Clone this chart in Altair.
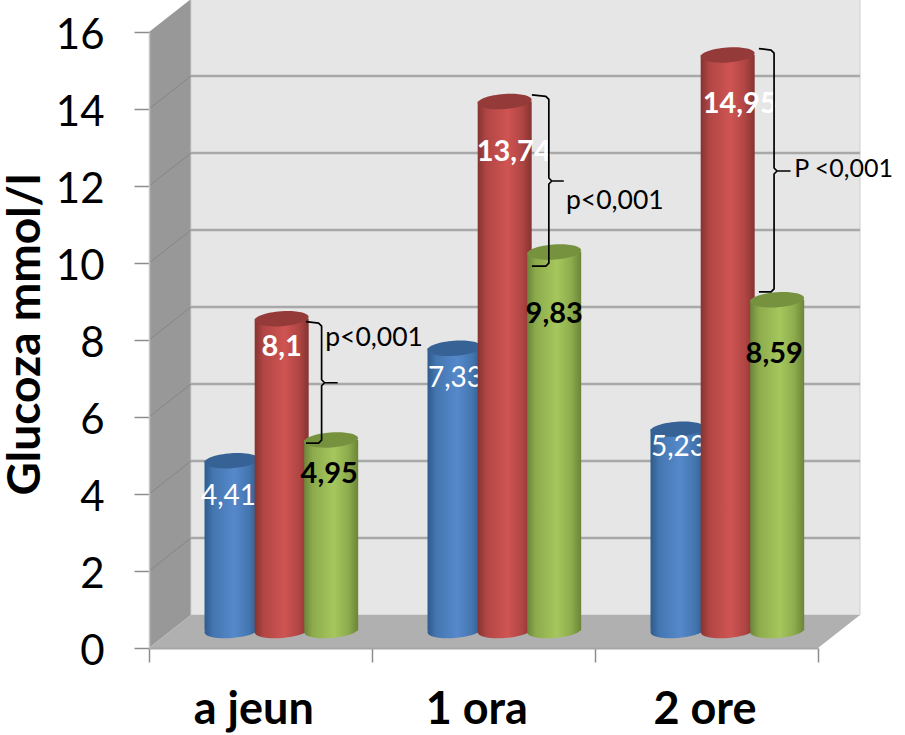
import altair as alt
import pandas as pd

# Fasting and post-load glucose means, one value per time point and series
categories = ["a jeun", "1 ora", "2 ore"]
series_blue = [4.41, 7.33, 5.23]
series_red = [8.1, 13.74, 14.95]
series_green = [4.95, 9.83, 8.59]
label_blue = ["4,41", "7,33", "5,23"]
label_red = ["8,1", "13,74", "14,95"]
label_green = ["4,95", "9,83", "8,59"]
p_texts = ["p<0,001", "p<0,001", "P <0,001"]
brace_top = [8.44, 14.33, 15.53]
brace_bottom = [5.32, 9.92, 9.25]
brace_mid = [6.89, 12.13, 12.39]

# Plot geometry
PLOT_W, PLOT_H = 669, 616
PX_X = PLOT_W / 3
PX_Y = PLOT_H / 16
DEPTH_X = 42 / PX_X
DEPTH_Y = 33 / PX_Y
LIFT = -17.5
LABEL_LIFT = -18.5
BAR_W = 54 / PX_X
FONT = "Lato"

slots = [0.37, 0.595, 0.817]
label_shift = [[-3, 1, 1], [0, 9, 12], [-2, 0, -3]]
label_drop = [[37, 32, 20], [29, 51, 50], [35, 63, 55]]


def cyl_gradient(edge, mid, light):
    return {
        "gradient": "linear", "x1": 0, "x2": 1, "y1": 0, "y2": 0,
        "stops": [
            {"offset": 0, "color": edge},
            {"offset": 0.16, "color": mid},
            {"offset": 0.55, "color": light},
            {"offset": 0.82, "color": mid},
            {"offset": 1, "color": edge},
        ],
    }


palette = [
    dict(values=series_blue, texts=label_blue, body=cyl_gradient("#2f5a8c", "#4476b0", "#5689cb"),
         cap="#376296", ink="#ffffff", weight="normal"),
    dict(values=series_red, texts=label_red, body=cyl_gradient("#853331", "#b04644", "#cf5452"),
         cap="#943b39", ink="#ffffff", weight="bold"),
    dict(values=series_green, texts=label_green, body=cyl_gradient("#6b8539", "#8dab4c", "#a5c75d"),
         cap="#76923f", ink="#000000", weight="bold"),
]

x_scale = alt.Scale(domain=[0, 3], nice=False, zero=False)
y_scale = alt.Scale(domain=[0, 16], nice=False, zero=False)

# Ticks sit at the category boundaries; category names are placed separately
x_axis = alt.Axis(
    values=[0, 1, 2, 3], labels=False, title=None, tickSize=14, tickColor="#8c8c8c",
    tickWidth=1.5, domainColor="#a6a6a6", domainWidth=2, grid=False, zindex=1)
y_axis = alt.Axis(
    values=list(range(0, 17, 2)), title="Glucoza mmol/l", tickSize=15, tickColor="#8c8c8c",
    tickWidth=1.5, domainColor="#c4c4c4", domainWidth=1.5, grid=False, labelFont=FONT,
    labelFontSize=42, labelColor="#000000", labelPadding=30, labelOffset=3, titleFont=FONT,
    titleFontSize=46, titleFontWeight="bold", titleColor="#000000", titleBaseline="alphabetic",
    titleX=-110, titleY=302, zindex=1)


def X(field="x"):
    return alt.X(f"{field}:Q", scale=x_scale, axis=x_axis)


def Y(field="y"):
    return alt.Y(f"{field}:Q", scale=y_scale, axis=y_axis)


# The room: side wall, back wall and floor
side_wall = alt.Chart(pd.DataFrame({
    "x": [0, DEPTH_X], "y": [0, DEPTH_Y], "y2": [16, 16 + DEPTH_Y],
})).mark_area(color="#989898", opacity=1).encode(X(), Y(), y2="y2:Q")

back_wall = alt.Chart(pd.DataFrame({
    "x": [DEPTH_X], "x2": [3 + DEPTH_X], "y": [DEPTH_Y], "y2": [16 + DEPTH_Y],
})).mark_rect(color="#e6e6e6", stroke="#cfcfcf", strokeWidth=1).encode(X(), x2="x2:Q", y=Y(), y2="y2:Q")

floor = alt.Chart(pd.DataFrame({
    "x": [0, DEPTH_X, 3, 3 + DEPTH_X],
    "y": [0, 0, 0, DEPTH_Y],
    "y2": [0, DEPTH_Y, DEPTH_Y, DEPTH_Y],
})).mark_area(color="#b0b0b0", opacity=1).encode(X(), Y(), y2="y2:Q")

grid_values = [2, 4, 6, 8, 10, 12, 14]
grid_df = pd.DataFrame({
    "x0": [0] * 7, "xb": [DEPTH_X] * 7, "xe": [3 + DEPTH_X] * 7,
    "v": grid_values, "vb": [v + DEPTH_Y for v in grid_values],
})
grid_back = alt.Chart(grid_df).mark_rule(color="#a8a8a8", strokeWidth=2.4).encode(
    x=X("xb"), x2="xe:Q", y=Y("vb"))
grid_side = alt.Chart(grid_df).mark_rule(color="#858585", strokeWidth=1).encode(
    x=X("x0"), x2="xb:Q", y=Y("v"), y2="vb:Q")

# Cylinders, drawn series by series so that each overlaps the one before it
ellipse_path = "M-0.998,0.07 A1,0.278 -4 1 1 0.998,-0.07 A1,0.278 -4 1 1 -0.998,0.07 Z"
cyl_layers = []
for s_idx, style in enumerate(palette):
    centres = [i + slots[s_idx] for i in range(3)]
    bar_df = pd.DataFrame({
        "category": categories,
        "x": [c - BAR_W / 2 for c in centres],
        "x2": [c + BAR_W / 2 for c in centres],
        "centre": centres,
        "value": style["values"],
        "base": [0, 0, 0],
    })
    base = alt.Chart(bar_df)
    bottom = base.mark_point(shape=ellipse_path, size=54 ** 2, filled=True, opacity=1,
                             fill=style["body"], yOffset=LIFT).encode(X("centre"), Y("base"))
    body = base.mark_bar(fill=style["body"], yOffset=LIFT, y2Offset=LIFT).encode(
        X(), x2="x2:Q", y=Y("value"), y2="base:Q")
    cap = base.mark_point(shape=ellipse_path, size=54 ** 2, filled=True, opacity=1,
                          fill=style["cap"], yOffset=LIFT).encode(X("centre"), Y("value"))
    cyl_layers += [bottom, body, cap]

    label_df = pd.DataFrame({
        "x": [c + d / PX_X for c, d in zip(centres, label_shift[s_idx])],
        "y": [v - d / PX_Y for v, d in zip(style["values"], label_drop[s_idx])],
        "text": style["texts"],
    })
    cyl_layers.append(
        alt.Chart(label_df).mark_text(font=FONT, fontSize=28 if style["weight"] == "normal" else 29,
                                      fontWeight=style["weight"], color=style["ink"],
                                      yOffset=LABEL_LIFT).encode(X(), Y(), text="text:N"))

# Significance braces between the red and green cylinders
brace_v = [0.774, 1.793, 2.803]
brace_l = [0.704, 1.717, 2.735]
brace_n = [0.843, 1.857, 2.874]
cx, cy = 3 / PX_X, 3 / PX_Y
brace_rows = []
for b in range(3):
    v, l, n, t, m, e = brace_v[b], brace_l[b], brace_n[b], brace_top[b], brace_mid[b], brace_bottom[b]
    pts = [(l, t + cy * 0.5), (v - cx, t), (v, t - cy), (v, m + cy), (v + cx, m), (n, m), (v + cx, m),
           (v, m - cy), (v, e + cy), (v - cx, e), (l, e)]
    for k, (px, py) in enumerate(pts):
        brace_rows.append({"brace": b, "k": k, "x": px, "y": py})
braces = alt.Chart(pd.DataFrame(brace_rows)).mark_line(
    color="#000000", strokeWidth=1.7, strokeJoin="round").encode(
    X(), Y(), detail="brace:N", order="k:Q")

p_df = pd.DataFrame({
    "x": [0.79, 1.87, 2.893],
    "y": [8.05, 11.6, 12.43],
    "text": p_texts,
    "font_px": [26.5, 26.5, 25],
})
p_labels = alt.Chart(p_df).mark_text(font=FONT, color="#000000", align="left").encode(
    X(), Y(), text="text:N", size=alt.Size("font_px:Q", scale=None, legend=None))

# Category names under the axis
cat_df = pd.DataFrame({"x": [0.47, 1.47, 2.493], "y": [-1.62] * 3, "text": categories})
cat_labels = alt.Chart(cat_df).mark_text(font=FONT, fontSize=45, fontWeight="bold", color="#000000").encode(
    X(), Y(), text="text:N")

chart = alt.layer(
    side_wall, back_wall, floor, grid_side, grid_back,
    *cyl_layers, braces, p_labels, cat_labels,
).properties(
    width=PLOT_W, height=PLOT_H,
    padding={"left": 149, "top": 32, "right": 87, "bottom": 87},
    autosize=alt.AutoSizeParams(type="none"),
    background="#ffffff",
).configure_view(stroke=None)

chart.save("out.html", embed_options={"renderer": "svg", "actions": False})
